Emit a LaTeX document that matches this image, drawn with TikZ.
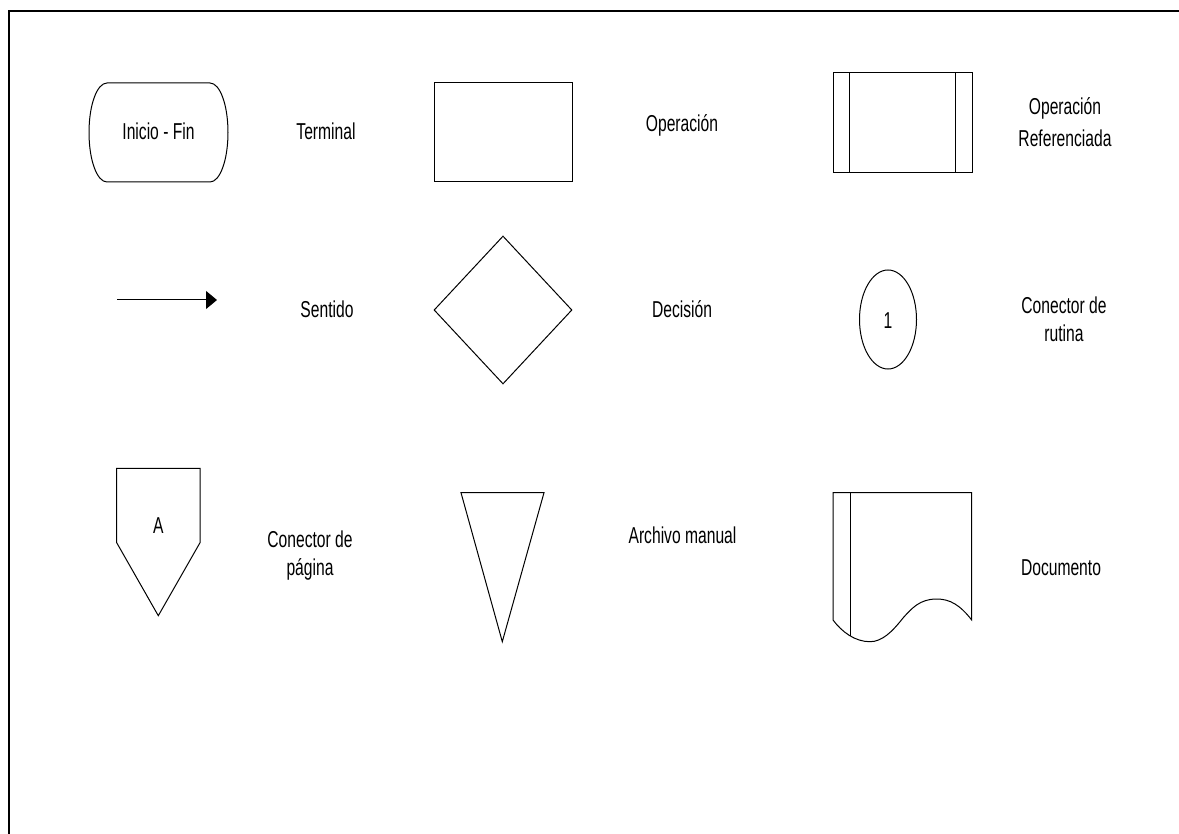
\documentclass[tikz,border=0pt]{standalone}
\usepackage{fontspec}
\setmainfont{Liberation Sans}[FakeStretch=0.68]
\usetikzlibrary{arrows.meta,shapes.geometric}
\tikzset{
  lbl/.style={font=\fontsize{23}{28}\selectfont, align=center, inner sep=0pt, anchor=base},
  shp/.style={draw, line width=1pt, inner sep=0pt},
  frameline/.style={line width=2pt}
}
\begin{document}
\begin{tikzpicture}[x=1pt,y=-1pt]
\useasboundingbox (0,0) rectangle (1179,834);
% frame
\coordinate (f1) at (1179,11);
\coordinate (f2) at (9,11);
\coordinate (f3) at (9,834);
\draw[frameline] (f1) -- (f2) -- (f3);

% Row 1: terminal
\draw[line width=1pt] (107,83) -- (210,83)
  .. controls (220,83) and (228,105) .. (228,132.5)
  .. controls (228,160) and (220,182) .. (210,182)
  -- (107,182)
  .. controls (97,182) and (89,160) .. (89,132.5)
  .. controls (89,105) and (97,83) .. (107,83) -- cycle;
\node[lbl] (inifin) at (158.5,140) {Inicio - Fin};
\node[lbl] (lterm) at (326,140) {Terminal};

% operation
\node[shp, minimum width=138pt, minimum height=99pt] (op) at (503,132.5) {};
\node[lbl] (lop) at (682,131.5) {Operación};

% referenced operation
\node[shp, minimum width=139pt, minimum height=99.5pt] (opref) at (902.5,122.5) {};
\draw[line width=1pt] ([xshift=17pt]opref.north west) -- ([xshift=17pt]opref.south west);
\draw[line width=1pt] ([xshift=-17pt]opref.north east) -- ([xshift=-17pt]opref.south east);
\node[lbl] (lopref) at (1065,147) {Operación\\[4pt]Referenciada};

% Row 2: arrow
\coordinate (a1) at (117,300);
\coordinate (a2) at (217,300);
\draw[line width=1pt, -{Triangle[length=11pt,width=18pt]}] (a1) -- (a2);
\node[lbl] (lsent) at (327,317.5) {Sentido};

% decision
\node[shp, diamond, minimum width=138pt, minimum height=148pt] (dec) at (503,310) {};
\node[lbl] (ldec) at (682,317.5) {Decisión};

% connector
\node[shp, ellipse, minimum width=57pt, minimum height=99pt] (con) at (888,319.5) {};
\node[lbl] (one) at (888,328.3) {1};
\node[lbl] (lcon) at (1064,341.7) {Conector de\\rutina};

% Row 3: page connector
\draw[line width=1pt] (116.7,468.3) -- (200,468.3) -- (200,542.7) -- (158.3,615.7) -- (116.7,542.7) -- cycle;
\node[lbl] (la) at (158.3,533) {A};
\node[lbl] (lpag) at (310,575) {Conector de\\página};

% manual file
\draw[line width=1pt] (461,492.7) -- (544,492.7) -- (502.3,641.7) -- cycle;
\node[lbl] (larch) at (682.5,543.3) {Archivo manual};

% document
\draw[line width=1pt] (833,620) -- (833,492.7) -- (971.7,492.7) -- (971.7,620)
  .. controls (960,605) and (950,599) .. (936.7,599)
  .. controls (920,599) and (912,608) .. (903,618)
  .. controls (892,632) and (882,641.7) .. (870,641.7)
  .. controls (855,641.7) and (842,632) .. (833,620);
\draw[line width=1pt] (850,492.7) -- (850,636);
\node[lbl] (ldoc) at (1061,575) {Documento};
\end{tikzpicture}
\end{document}
